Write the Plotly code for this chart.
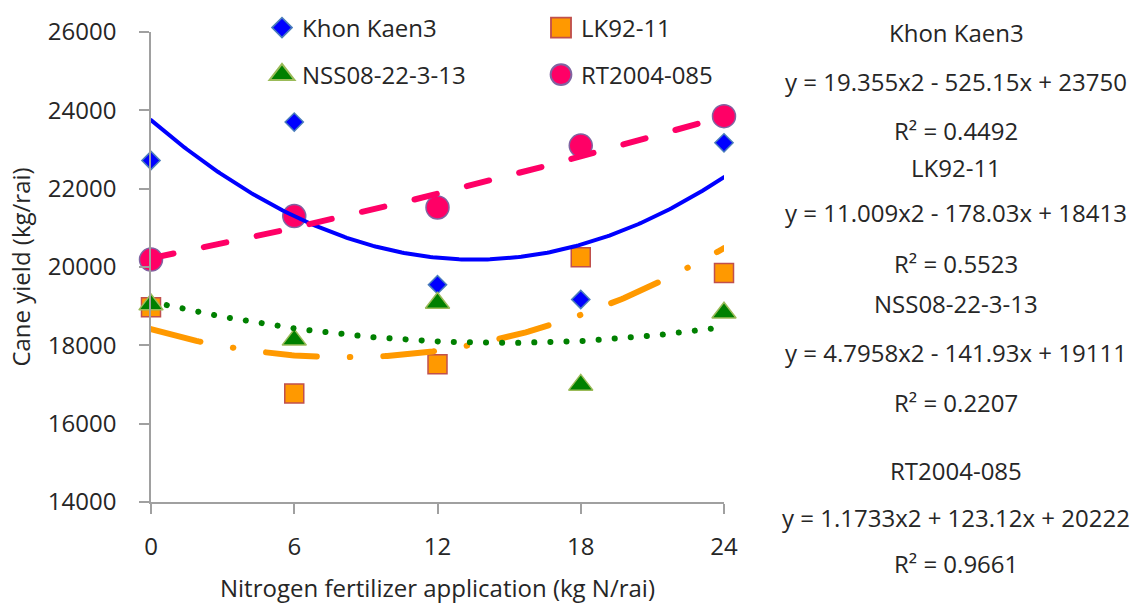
import numpy as np
import plotly.graph_objects as go

# ---------------- data ----------------
x_n = [0, 6, 12, 18, 24]
series_names = ["Khon Kaen3", "LK92-11", "NSS08-22-3-13", "RT2004-085"]
khon_kaen3 = [22720, 23700, 19550, 19170, 23170]
lk92_11 = [18970, 16770, 17520, 20250, 19850]
nss08_22_3_13 = [19040, 18140, 19080, 16990, 18830]
rt2004_085 = [20190, 21300, 21520, 23100, 23850]

# trendline coefficients (a*x^2 + b*x + c) and R^2 as shown in the reference
coef_khon_kaen3 = [19.355, -525.15, 23750]
coef_lk92_11 = [11.009, -178.03, 18413]
coef_nss08 = [4.7958, -141.93, 19111]
coef_rt2004 = [1.1733, 123.12, 20222]
r2_values = [0.4492, 0.5523, 0.2207, 0.9661]

y_ticks = [14000, 16000, 18000, 20000, 22000, 24000, 26000]
y_tick_labels = ["14000", "16000", "18000", "20000", "22000", "24000", "26000"]
x_ticks = [0, 6, 12, 18, 24]
x_tick_labels = ["0", "6", "12", "18", "24"]

# ---------------- layout helpers ----------------
W, H = 1143, 613
ML, MR, MT, MB = 151, 419, 32, 111
PW, PH = W - ML - MR, H - MT - MB


def px(xpix):
    return (xpix - ML) / PW


def py(ypix):
    return (H - MB - ypix) / PH


FONT = "Open Sans"
FS = 24
TXT = "#262626"

fig = go.Figure()

marker_styles = [
    dict(symbol="diamond", size=14, color="#0000ff", line=dict(color="#4a7ebb", width=1.5)),
    dict(symbol="square", size=19, color="#ff9900", line=dict(color="#c0504d", width=1.5)),
    dict(symbol="triangle-up", size=21, color="#008000", line=dict(color="#9bbb59", width=1.5)),
    dict(symbol="circle", size=23, color="#ff0066", line=dict(color="#8064a2", width=1.5)),
]
values = [khon_kaen3, lk92_11, nss08_22_3_13, rt2004_085]
legends = ["legend", "legend", "legend2", "legend2"]

for name, vals, ms, lg in zip(series_names, values, marker_styles, legends):
    fig.add_trace(go.Scatter(
        x=x_n, y=vals, mode="markers", name=name, marker=ms,
        cliponaxis=False, legend=lg,
    ))

xs = np.linspace(0, 24, 241)
coefs = [coef_khon_kaen3, coef_lk92_11, coef_nss08, coef_rt2004]
line_styles = [
    dict(color="#0000ff", width=4, dash="solid"),
    dict(color="#ff9900", width=6, dash="51px,33px,0.5px,33px"),
    dict(color="#008000", width=6, dash="0.1px,16px"),
    dict(color="#ff0066", width=6, dash="23px,31px"),
]
for name, c, ls in zip(series_names, coefs, line_styles):
    fig.add_trace(go.Scatter(
        x=xs, y=np.polyval(c, xs), mode="lines", line=ls,
        showlegend=False, hoverinfo="skip", cliponaxis=False,
    ))

# equation annotations on the right
def fmt_eq(c):
    a, b, k = c
    sb = "-" if b < 0 else "+"
    return f"y = {a:g}x2 {sb} {abs(b):g}x + {k:g}"

ann_rows = []
name_y = [33, 167, 303, 470]
eq_y = [81, 213, 353, 517]
r2_y = [130, 263, 402, 563]
for i, name in enumerate(series_names):
    ann_rows.append((name, name_y[i]))
    ann_rows.append((fmt_eq(coefs[i]), eq_y[i]))
    ann_rows.append((f"R² = {r2_values[i]:.4f}", r2_y[i]))

annotations = [
    dict(text=t, x=px(956), y=py(yy), xref="paper", yref="paper",
         xanchor="center", yanchor="middle", showarrow=False,
         font=dict(family=FONT, size=FS, color=TXT))
    for t, yy in ann_rows
]

axis_common = dict(
    showline=True, linecolor="#a0a0a0", linewidth=1.5,
    ticks="outside", ticklen=10, tickcolor="#a0a0a0", tickwidth=1.5,
    showgrid=False, zeroline=False,
    tickfont=dict(family=FONT, size=FS, color=TXT),
)

fig.update_layout(
    width=W, height=H,
    margin=dict(l=ML, r=MR, t=MT, b=MB, pad=0, autoexpand=False),
    paper_bgcolor="white", plot_bgcolor="white",
    font=dict(family=FONT, size=FS, color=TXT),
    xaxis=dict(range=[0, 24], tickvals=x_ticks, ticktext=x_tick_labels,
               ticklabelstandoff=12, automargin=False,
               title=dict(text="Nitrogen fertilizer application (kg N/rai)",
                          font=dict(family=FONT, size=FS, color=TXT), standoff=20),
               **axis_common),
    yaxis=dict(range=[14000, 26000], tickvals=y_ticks, ticktext=y_tick_labels,
               ticklabelstandoff=18, automargin=False,
               title=dict(text="Cane yield (kg/rai)",
                          font=dict(family=FONT, size=FS, color=TXT), standoff=10),
               **axis_common),
    legend=dict(orientation="h", x=px(262), y=py(28), xanchor="left", yanchor="middle",
                xref="paper", yref="paper", bgcolor="rgba(0,0,0,0)",
                entrywidth=234, entrywidthmode="pixels",
                font=dict(family=FONT, size=FS, color=TXT)),
    legend2=dict(orientation="h", x=px(262), y=py(75), xanchor="left", yanchor="middle",
                 xref="paper", yref="paper", bgcolor="rgba(0,0,0,0)",
                 entrywidth=234, entrywidthmode="pixels",
                 font=dict(family=FONT, size=FS, color=TXT)),
    annotations=annotations,
    showlegend=True,
)

post = """
var s = document.createElement('style');
s.innerHTML = '.js-line{stroke-linecap:round !important;}';
document.head.appendChild(s);
function enlargeLegend(){
  var scales = {'rgb(0, 0, 255)':1.1, 'rgb(255, 153, 0)':1.25, 'rgb(0, 128, 0)':1.35, 'rgb(255, 0, 102)':1.3};
  document.querySelectorAll('.infolayer path.scatterpts').forEach(function(p){
    var fill = (p.style && p.style.fill) || '';
    var k = scales[fill];
    if(!k) return;
    var tr = p.getAttribute('transform') || '';
    if(tr.indexOf('scale(') >= 0) return;
    p.setAttribute('transform', tr + ' scale(' + k + ')');
  });
}
enlargeLegend();
var gd = document.getElementById('{plot_id}');
if(gd && gd.on){ gd.on('plotly_afterplot', enlargeLegend); }
var mo = new MutationObserver(function(){ enlargeLegend(); });
mo.observe(document.body, {childList:true, subtree:true});
[0, 20, 100, 300, 800].forEach(function(t){ setTimeout(enlargeLegend, t); });
"""
fig.write_html("out.html", post_script=post)
